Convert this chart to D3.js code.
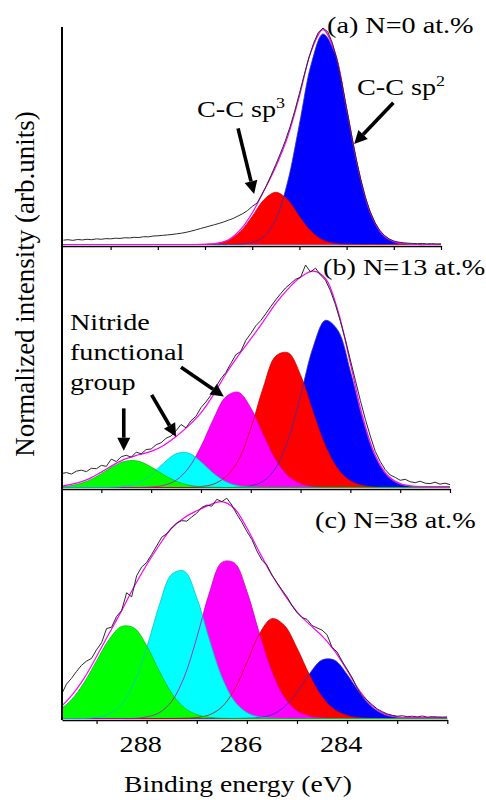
<!DOCTYPE html>
<html>
<head>
<meta charset="utf-8">
<script src="https://cdn.jsdelivr.net/npm/d3@7"></script>
<style>
body { margin: 0; background: #fff; }
svg text { font-family: "Liberation Serif", "Times New Roman", serif; fill: #000; }
</style>
</head>
<body>
<div id="chart"></div>
<script>
// binding energy grid (eV) for the fitted components and the fit envelope
var componentEnergy = [290.0, 289.75, 289.5, 289.25, 289.0, 288.75, 288.5, 288.25, 288.0, 287.75, 287.5, 287.25,
    287.0, 286.75, 286.5, 286.25, 286.0, 285.75, 285.5, 285.25, 285.0, 284.75, 284.5, 284.25,
    284.0, 283.75, 283.5, 283.25, 283.0, 282.75, 282.5, 282.25, 282.0];

// binding energy grid (eV) for the measured spectra
var rawEnergy = [290.0, 289.9, 289.8, 289.7, 289.6, 289.5, 289.4, 289.3, 289.2, 289.1, 289.0,
    288.9, 288.8, 288.7, 288.6, 288.5, 288.4, 288.3, 288.2, 288.1, 288.0,
    287.9, 287.8, 287.7, 287.6, 287.5, 287.4, 287.3, 287.2, 287.1, 287.0,
    286.9, 286.8, 286.7, 286.6, 286.5, 286.4, 286.3, 286.2, 286.1, 286.0,
    285.9, 285.8, 285.7, 285.6, 285.5, 285.4, 285.3, 285.2, 285.1, 285.0,
    284.9, 284.8, 284.7, 284.6, 284.5, 284.4, 284.3, 284.2, 284.1, 284.0,
    283.9, 283.8, 283.7, 283.6, 283.5, 283.4, 283.3, 283.2, 283.1, 283.0,
    282.9, 282.8, 282.7, 282.6, 282.5, 282.4, 282.3, 282.2, 282.1, 282.0];

// (a) N = 0 at.%
var aSp2 = [0,0,0,0,0,0,0,0,0,0,0,0,0,0,0,0.002,0.009,0.037,0.116,0.287,0.553,0.829,0.968,0.880,0.623,0.344,0.148,0.049,0.013,0.003,0,0,0];
var aSp3 = [0,0,0,0,0,0,0,0,0,0,0,0,0.001,0.005,0.020,0.060,0.129,0.206,0.240,0.206,0.129,0.060,0.020,0.005,0.001,0,0,0,0,0,0,0,0];
var aFit = [0,0,0,0,0,0,0,0,0,0,0,0,0.001,0.005,0.022,0.068,0.145,0.248,0.358,0.494,0.682,0.889,0.988,0.885,0.624,0.344,0.148,0.049,0.013,0.003,0,0,0];
var aRaw = [0.020,0.022,0.019,0.023,0.021,0.024,0.022,0.026,0.024,0.027,0.026,
    0.029,0.028,0.031,0.030,0.033,0.032,0.036,0.035,0.039,0.040,
    0.042,0.044,0.046,0.049,0.052,0.056,0.061,0.067,0.073,0.079,
    0.085,0.091,0.097,0.104,0.112,0.120,0.131,0.142,0.156,0.175,
    0.190,0.228,0.270,0.318,0.368,0.420,0.476,0.540,0.613,0.694,
    0.778,0.858,0.925,0.975,0.995,0.978,0.926,0.845,0.742,0.626,
    0.508,0.397,0.298,0.216,0.151,0.101,0.066,0.042,0.026,0.016,
    0.011,0.008,0.006,0.005,0.004,0.005,0.003,0.004,0.003,0.003];

// (b) N = 13 at.%
var bSp2 = [0,0,0,0,0,0,0,0,0,0,0,0,0,0,0,0.001,0.007,0.026,0.081,0.198,0.383,0.582,0.695,0.653,0.483,0.280,0.128,0.046,0.013,0.003,0.001,0,0];
var bSp3 = [0,0,0,0,0,0,0,0,0,0,0,0,0.004,0.014,0.045,0.113,0.245,0.415,0.546,0.560,0.467,0.315,0.173,0.077,0.028,0.008,0.002,0,0,0,0,0,0];
var bN1 = [0,0,0,0,0,0,0,0,0.002,0.009,0.030,0.081,0.170,0.284,0.377,0.396,0.331,0.219,0.115,0.048,0.016,0.004,0.001,0,0,0,0,0,0,0,0,0,0];
var bN2 = [0,0,0,0,0,0.001,0.006,0.021,0.053,0.101,0.140,0.143,0.107,0.059,0.024,0.007,0.002,0,0,0,0,0,0,0,0,0,0,0,0,0,0,0,0];
var bN3 = [0.001,0.004,0.012,0.029,0.057,0.089,0.110,0.109,0.085,0.053,0.026,0.010,0.003,0.001,0,0,0,0,0,0,0,0,0,0,0,0,0,0,0,0,0,0,0];
var bFit = [0.003,0.008,0.018,0.036,0.064,0.095,0.120,0.136,0.150,0.175,0.212,0.256,0.310,0.385,0.472,0.548,0.618,
    0.690,0.765,0.826,0.875,0.900,0.869,0.735,0.515,0.292,0.134,0.050,0.016,0.006,0.004,0.004,0.004];
var bRaw = [0.055,0.060,0.058,0.062,0.056,0.068,0.072,0.066,0.080,0.078,0.092,
    0.088,0.118,0.108,0.128,0.134,0.126,0.147,0.140,0.158,0.160,
    0.178,0.186,0.205,0.214,0.236,0.262,0.248,0.278,0.296,0.332,
    0.356,0.384,0.418,0.452,0.478,0.516,0.552,0.566,0.612,0.640,
    0.672,0.694,0.722,0.752,0.780,0.806,0.830,0.848,0.866,0.874,
    0.925,0.896,0.912,0.884,0.862,0.818,0.760,0.690,0.615,0.530,
    0.446,0.362,0.284,0.214,0.150,0.108,0.074,0.052,0.042,0.030,
    0.034,0.024,0.020,0.026,0.018,0.016,0.022,0.014,0.018,0.012];

// (c) N = 38 at.%
var cSp2 = [0,0,0,0,0,0,0,0,0,0,0,0,0,0,0,0,0.001,0.004,0.017,0.051,0.114,0.195,0.255,0.254,0.192,0.111,0.049,0.016,0.004,0.001,0,0,0];
var cSp3 = [0,0,0,0,0,0,0,0,0,0,0,0.001,0.004,0.016,0.050,0.125,0.243,0.369,0.435,0.405,0.307,0.190,0.095,0.039,0.013,0.003,0.001,0,0,0,0,0,0];
var cN1 = [0,0,0,0,0,0,0,0,0.007,0.025,0.075,0.181,0.352,0.546,0.680,0.678,0.554,0.370,0.203,0.091,0.033,0.010,0.003,0,0,0,0,0,0,0,0,0,0];
var cN2 = [0,0,0,0,0.005,0.020,0.062,0.155,0.308,0.492,0.628,0.642,0.526,0.345,0.181,0.076,0.026,0.007,0.002,0,0,0,0,0,0,0,0,0,0,0,0,0,0];
var cN3 = [0.014,0.037,0.082,0.156,0.251,0.344,0.401,0.394,0.317,0.207,0.110,0.047,0.017,0.005,0.001,0,0,0,0,0,0,0,0,0,0,0,0,0,0,0,0,0,0];
var cFit = [0.020,0.045,0.100,0.175,0.270,0.370,0.470,0.575,0.670,0.755,0.830,0.875,0.905,0.930,0.945,0.915,0.830,
    0.725,0.625,0.540,0.465,0.410,0.360,0.295,0.210,0.120,0.055,0.020,0.007,0.004,0.004,0.004,0.004];
var cRaw = [0.060,0.075,0.090,0.105,0.150,0.175,0.205,0.232,0.250,0.262,0.300,
    0.330,0.392,0.398,0.445,0.470,0.548,0.530,0.622,0.660,0.680,
    0.715,0.752,0.790,0.805,0.830,0.852,0.862,0.860,0.878,0.895,
    0.920,0.930,0.925,0.955,0.945,0.960,0.930,0.890,0.855,0.815,
    0.780,0.730,0.690,0.668,0.625,0.592,0.560,0.530,0.492,0.462,
    0.440,0.432,0.405,0.395,0.385,0.365,0.310,0.290,0.250,0.215,
    0.178,0.132,0.098,0.080,0.060,0.042,0.030,0.020,0.014,0.010,
    0.012,0.008,0.010,0.007,0.011,0.006,0.008,0.007,0.006,0.007];

var panelTitles = ["(a) N=0 at.%", "(b) N=13 at.%", "(c) N=38 at.%"];
var tickValues = [289, 288, 287, 286, 285, 284, 283, 282];
var tickLabels = [288, 286, 284];

// fill colours in drawing order: sp2, sp3, then the three nitride components
var fillColors = ["#0000ff", "#ff0000", "#ff00ff", "#00ffff", "#00ff00"];
var lineColors = ["#3030b8", "#d40000", "#c800c8", "#00c4c4", "#00c000"];

var panels = [
    {comps: [aSp2, aSp3], fit: aFit, raw: aRaw, eLeft: 290.03, xEnd: 441, axisY: 246, top: 27, titleX: 327, titleY: 33},
    {comps: [bSp2, bSp3, bN1, bN2, bN3], fit: bFit, raw: bRaw, eLeft: 289.79, xEnd: 450, axisY: 489, top: 247, titleX: 323, titleY: 275},
    {comps: [cSp2, cSp3, cN1, cN2, cN3], fit: cFit, raw: cRaw, eLeft: 289.69, xEnd: 447.3, axisY: 720, top: 489, titleX: 315, titleY: 528}
];

var xLeft = 62, stretch = 1.2;

var svg = d3.select("#chart")
    .append("svg")
    .attr("width", 486)
    .attr("height", 800);

function addText(x, y, str, size, anchor) {
    return svg.append("text")
        .attr("transform", "translate(" + x + "," + y + ") scale(" + stretch + ",1)")
        .attr("text-anchor", anchor || "start")
        .style("font-size", size + "px")
        .text(str);
}

function drawArrow(x1, y1, x2, y2) {
    var ang = Math.atan2(y2 - y1, x2 - x1), hl = 13, hw = 6.5;
    var bx = x2 - hl * Math.cos(ang), by = y2 - hl * Math.sin(ang);
    svg.append("line")
        .attr("x1", x1).attr("y1", y1).attr("x2", bx).attr("y2", by)
        .attr("stroke", "#000").attr("stroke-width", 3.6);
    svg.append("path")
        .attr("d", "M" + x2 + "," + y2 +
            "L" + (bx + hw * Math.sin(ang)) + "," + (by - hw * Math.cos(ang)) +
            "L" + (bx - hw * Math.sin(ang)) + "," + (by + hw * Math.cos(ang)) + "Z")
        .attr("fill", "#000");
}

panels.forEach(function(p, i) {
    p.x = d3.scaleLinear().domain([p.eLeft, 282]).range([xLeft, p.xEnd]);
    p.y = d3.scaleLinear().domain([0, 1]).range([p.axisY - 1.5, p.top]);

    svg.append("clipPath").attr("id", "clip" + i)
        .append("rect")
        .attr("x", xLeft).attr("y", p.top - 10)
        .attr("width", p.xEnd - xLeft).attr("height", p.axisY - p.top + 10);

    var g = svg.append("g").attr("clip-path", "url(#clip" + i + ")");

    var area = d3.area()
        .x(function(d, k) { return p.x(componentEnergy[k]); })
        .y0(p.y(0))
        .y1(function(d) { return p.y(d); })
        .curve(d3.curveCatmullRom);
    var line = d3.line()
        .x(function(d, k) { return p.x(componentEnergy[k]); })
        .y(function(d) { return p.y(d); })
        .curve(d3.curveCatmullRom);
    var rawLine = d3.line()
        .x(function(d, k) { return p.x(rawEnergy[k]); })
        .y(function(d) { return p.y(d); });

    // filled components
    g.selectAll(".comp")
        .data(p.comps)
        .enter()
        .append("path")
        .attr("d", area)
        .style("fill", function(d, k) { return fillColors[k]; });

    // thin outlines of every component
    g.selectAll(".outline")
        .data(p.comps)
        .enter()
        .append("path")
        .attr("d", line)
        .style("fill", "none")
        .style("stroke", function(d, k) { return lineColors[k]; })
        .style("stroke-width", 0.8);

    // fit envelope and measured spectrum
    g.append("path")
        .attr("d", line(p.fit))
        .style("fill", "none")
        .style("stroke", "#ff00ff")
        .style("stroke-width", 1.2);
    g.append("path")
        .attr("d", rawLine(p.raw))
        .style("fill", "none")
        .style("stroke", "#2a2a2a")
        .style("stroke-width", 1);

    // bottom axis of the panel
    var ax = svg.append("g")
        .attr("transform", "translate(0," + p.axisY + ")")
        .call(d3.axisBottom(p.x).tickValues(tickValues).tickSize(4).tickSizeOuter(0).tickFormat(""));
    ax.select(".domain").attr("stroke", "#000").attr("stroke-width", 1.3);
    ax.selectAll(".tick line").attr("stroke", "#000").attr("stroke-width", 1.2);

    addText(p.titleX, p.titleY, panelTitles[i], 23.5);
});

// left axis, shared by the three panels
svg.append("line")
    .attr("x1", xLeft).attr("x2", xLeft)
    .attr("y1", panels[0].top).attr("y2", panels[2].axisY)
    .attr("stroke", "#000").attr("stroke-width", 2);

// tick labels under the bottom panel
var pc = panels[2];
tickLabels.forEach(function(t) {
    addText(pc.x(t) - 6, 752, t, 23.5, "middle");
});

addText(238, 792, "Binding energy (eV)", 23, "middle");

svg.append("text")
    .attr("transform", "translate(34,284) rotate(-90)")
    .attr("text-anchor", "middle")
    .style("font-size", "27px")
    .text("Normalized intensity (arb.units)");

// annotations of panel (a)
var pa = panels[0];
var sp3 = addText(pa.x(287.17), pa.y(0.588), "C-C sp", 23.5);
sp3.append("tspan").attr("dy", -9).style("font-size", "15px").text("3");
var sp2 = addText(pa.x(283.78), pa.y(0.687), "C-C sp", 23.5);
sp2.append("tspan").attr("dy", -9).style("font-size", "15px").text("2");
drawArrow(pa.x(286.30), pa.y(0.534), pa.x(285.96), pa.y(0.232));
drawArrow(pa.x(283.01), pa.y(0.652), pa.x(283.84), pa.y(0.462));

// annotations of panel (b)
var pb = panels[1];
addText(pb.x(289.63), pb.y(0.655), "Nitride", 23.5);
addText(pb.x(289.63), pb.y(0.530), "functional", 23.5);
addText(pb.x(289.63), pb.y(0.405), "group", 23.5);
drawArrow(pb.x(288.55), pb.y(0.329), pb.x(288.55), pb.y(0.153));
drawArrow(pb.x(287.99), pb.y(0.385), pb.x(287.50), pb.y(0.211));
drawArrow(pb.x(287.40), pb.y(0.500), pb.x(286.54), pb.y(0.378));
</script>
</body>
</html>
